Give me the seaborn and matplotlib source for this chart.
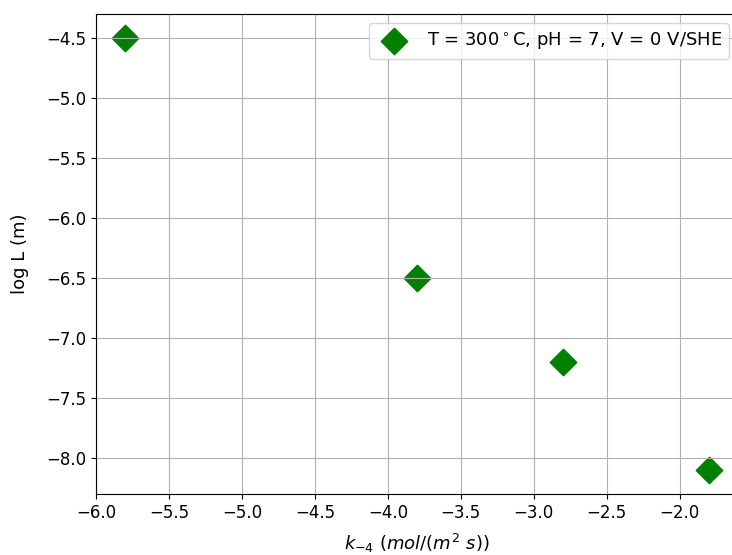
import matplotlib
matplotlib.use("Agg")
import matplotlib.pyplot as plt
import seaborn as sns

# data
k_minus4 = [-5.8, -3.8, -2.8, -1.8]
log_L = [-4.5, -6.5, -7.2, -8.1]
label = r'T = 300$^\circ$C, pH = 7, V = 0 V/SHE'

fig = plt.figure(figsize=(7.32, 5.55), dpi=100)
# the reference crops the right edge slightly, so the axes run past the figure
ax = fig.add_axes([96 / 732, 61 / 555, 642 / 732, 480 / 555])

sns.scatterplot(x=k_minus4, y=log_L, marker='D', color='green', s=180,
                edgecolor='green', label=label, ax=ax)

ax.set_xlim(-6.0, -1.6)
ax.set_ylim(-8.30, -4.30)
ax.set_xlabel(r'$k_{-4}\ (mol/(m^2\ s))$', fontsize=13, labelpad=7)
ax.set_ylabel('log L (m)', fontsize=13, labelpad=12)
ax.tick_params(labelsize=12)
ax.grid(True)
ax.legend(loc='upper right', fontsize=13)

fig.savefig('out.png', dpi=100)
